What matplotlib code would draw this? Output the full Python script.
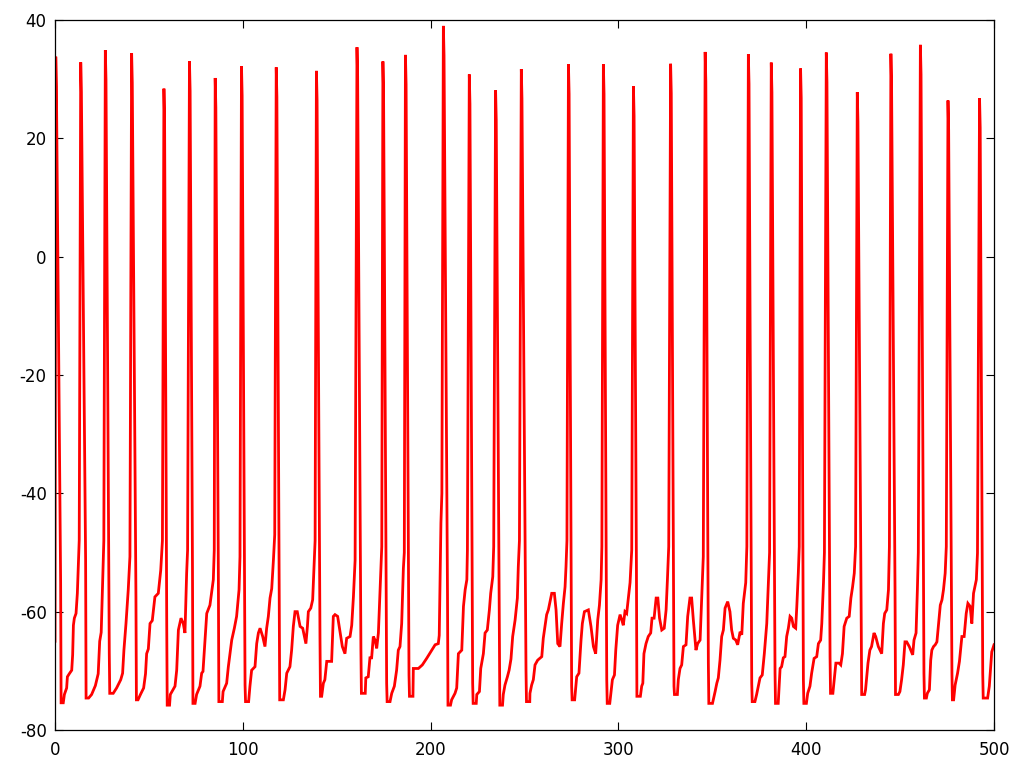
import numpy as np
import matplotlib
matplotlib.use("Agg")
import matplotlib.pyplot as plt

# ---- spike data (time of peak, peak value, end-of-fall time, value there, trough) ----
spike_t = [0.4, 13.7, 26.8, 40.8, 58.0, 71.6, 85.3, 99.3, 117.8, 139.2, 160.8, 174.6,
           186.6, 206.8, 220.6, 234.6, 248.3, 273.4, 292.0, 308.0, 327.8, 346.2, 369.2,
           381.4, 397.0, 410.7, 427.2, 445.1, 460.8, 475.5, 492.3]
spike_peak = [33.8, 32.85, 34.9, 34.4, 28.4, 33.0, 30.2, 32.2, 32.0, 31.4, 35.4, 33.0,
              34.1, 39.0, 30.8, 28.1, 31.7, 32.5, 32.5, 28.8, 32.6, 34.6, 34.2,
              32.8, 31.8, 34.5, 27.8, 34.3, 35.8, 26.4, 26.8]
fall_t = [3.0, 16.3, 28.9, 43.1, 59.5, 73.2, 87.0, 101.2, 119.4, 141.1, 162.9, 176.6,
          188.5, 209.0, 222.4, 236.6, 250.8, 275.1, 293.8, 309.6, 329.6, 347.9, 371.0,
          383.4, 398.5, 412.7, 429.3, 447.3, 462.7, 477.6, 494.0]
fall_v = [-55.2, -51.2, -67.0, -57.5, -62.3, -52.4, -54.6, -72.4, -56.7, -64.5, -66.5, -72.1,
          -70.7, -57.2, -72.1, -63.1, -69.9, -72.6, -71.5, -52.7, -72.6, -68.7, -72.1,
          -70.4, -71.5, -67.6, -62.5, -56.3, -70.4, -70.4, -70.4]
trough_v = [-75.4, -74.6, -73.8, -74.9, -75.8, -75.5, -75.2, -75.2, -74.9, -74.3, -73.8, -75.2,
            -74.3, -75.8, -75.5, -75.8, -75.2, -74.9, -75.5, -74.3, -74.0, -75.5, -75.2,
            -75.5, -75.5, -73.8, -74.0, -74.0, -74.6, -74.9, -74.6]

# ---- subthreshold trace between spikes (time, voltage) ----
sub_t = [0.0,
         4.4, 5.0, 6.2, 6.6, 7.6, 8.9, 9.4, 9.8, 10.3, 11.2, 11.9, 12.4, 12.9,
         17.9, 19.5, 21.5, 23.0, 23.8, 24.6, 25.4, 26.0,
         31.0, 32.8, 35.0, 36.0, 36.7, 37.8, 39.0, 39.9,
         44.2, 45.5, 47.2, 48.2, 48.8, 49.7, 50.6, 51.8, 53.2, 55.0, 56.3, 57.2,
         61.0, 61.4, 63.9, 64.8, 65.7, 67.1, 68.3, 69.2, 70.1, 70.6,
         74.6, 75.4, 77.2, 78.1, 78.8, 79.9, 80.8, 82.5, 84.3, 84.8,
         89.1, 89.5, 91.4, 92.3, 94.1, 95.5, 96.7, 98.0, 98.5,
         103.1, 103.8, 104.7, 106.5, 107.4, 108.3, 109.2, 110.6, 111.8, 112.7, 113.6, 114.5, 115.4, 116.3, 117.0,
         121.6, 122.5, 123.4, 125.1, 126.0, 126.9, 127.8, 129.0, 130.5, 131.9, 133.6, 134.4, 134.9, 136.2, 137.2, 137.9, 138.5,
         142.0, 142.9, 143.7, 144.7, 147.3, 148.2, 149.1, 150.5, 151.8, 153.0, 154.4, 155.3, 157.1, 158.0, 158.9, 159.8,
         165.2, 165.5, 166.8, 167.7, 168.6, 169.5, 170.4, 171.3, 172.2, 173.1, 174.0,
         178.4, 179.3, 180.7, 181.9, 182.8, 183.7, 184.6, 185.5, 186.0,
         190.6, 190.8, 193.5, 195.6, 197.9, 200.6, 202.4, 204.1, 204.6, 205.5, 206.0,
         210.6, 211.2, 213.0, 213.9, 214.8, 216.6, 217.5, 218.4, 219.3, 219.6,
         224.3, 224.6, 226.0, 226.7, 228.1, 229.0, 230.2, 231.3, 232.0, 233.1, 233.6,
         238.3, 238.7, 239.6, 240.9, 241.8, 242.8, 243.7, 245.0, 246.2, 246.7, 247.3,
         252.8, 252.9, 253.8, 254.7, 255.6, 257.0, 259.2, 260.0, 260.9, 261.8, 262.7, 263.6, 264.5, 265.9, 266.8, 267.7, 268.9, 269.8, 270.7, 271.6, 272.1, 272.6,
         276.7, 277.8, 279.0, 280.1, 280.8, 281.9, 284.0, 285.4, 286.7, 287.9, 289.0, 289.9, 290.8, 291.2,
         295.4, 296.1, 296.8, 297.9, 298.6, 299.6, 300.9, 301.8, 302.6, 303.5, 304.4, 305.3, 306.2, 307.1,
         311.7, 312.4, 313.0, 313.6, 314.7, 315.9, 317.2, 317.9, 319.0, 320.1, 321.0, 321.9, 323.1, 324.4, 325.4, 326.1, 326.8,
         331.4, 331.9, 332.8, 333.7, 334.6, 336.0, 336.9, 338.1, 339.0, 339.9, 341.3, 342.2, 343.5, 344.3, 345.2,
         350.1, 351.5, 352.4, 353.2, 354.1, 355.0, 355.9, 356.8, 358.2, 359.4, 360.3, 361.2, 362.5, 363.5, 364.8, 365.7, 366.5, 367.8, 368.4,
         372.7, 373.6, 374.5, 375.4, 376.6, 377.7, 379.0, 379.8, 380.5,
         385.1, 386.1, 386.9, 387.8, 388.7, 389.6, 390.5, 391.4, 392.3, 393.2, 394.4, 395.0, 395.8, 396.3,
         400.1, 400.8, 402.0, 402.9, 404.2, 405.6, 406.5, 407.7, 408.3, 409.2, 409.7,
         414.2, 414.9, 415.8, 417.5, 418.4, 419.3, 420.2, 421.6, 422.9, 423.8, 424.7, 425.6, 426.3,
         431.1, 431.6, 432.9, 433.9, 434.8, 436.1, 437.0, 438.4, 440.2, 441.1, 441.8, 442.9, 443.8, 444.3,
         449.1, 449.9, 450.8, 451.7, 452.6, 453.5, 454.9, 456.7, 457.4, 458.5, 459.2, 459.7,
         464.0, 464.5, 465.6, 466.3, 466.9, 467.8, 468.7, 469.6, 470.5, 471.4, 472.3, 473.1, 474.0, 474.6,
         478.5, 479.3, 480.6, 481.6, 482.9, 484.1, 485.2, 486.1, 487.3, 488.2, 489.1, 490.6, 491.2,
         496.6, 497.5, 498.8, 500.0]
sub_v = [-65.0,
         -75.4, -74.0, -72.9, -71.0, -70.5, -69.9, -67.3, -62.3, -61.1, -60.3, -56.9, -52.4, -47.9,
         -74.6, -74.0, -72.5, -70.5, -65.0, -63.5, -55.0, -48.0,
         -73.8, -72.9, -71.5, -70.4, -66.5, -62.0, -56.3, -50.7,
         -74.9, -74.0, -72.9, -70.5, -67.1, -66.3, -62.0, -61.5, -57.5, -56.9, -53.0, -48.0,
         -75.8, -74.0, -72.6, -69.9, -63.1, -61.1, -62.0, -63.6, -53.5, -49.6,
         -75.5, -74.0, -72.6, -70.4, -70.1, -64.8, -60.3, -58.9, -54.6, -49.6,
         -75.2, -73.5, -72.1, -69.3, -64.8, -62.8, -60.8, -56.3, -50.7,
         -75.2, -72.6, -69.9, -69.3, -65.4, -63.6, -62.8, -64.2, -65.9, -62.8, -60.8, -57.7, -56.1, -51.3, -47.0,
         -74.9, -73.2, -70.4, -69.3, -66.5, -62.5, -60.0, -60.0, -62.5, -62.8, -65.4, -62.5, -60.0, -59.4, -58.0, -52.4, -48.0,
         -74.3, -72.1, -71.5, -68.4, -68.4, -60.8, -60.5, -60.8, -63.4, -65.9, -67.1, -64.5, -64.2, -62.3, -57.5, -51.3,
         -73.8, -71.2, -71.0, -67.8, -67.8, -64.2, -64.8, -66.2, -63.6, -56.3, -49.0,
         -75.2, -73.8, -72.6, -69.9, -66.5, -65.9, -62.0, -52.7, -50.0,
         -74.3, -69.6, -69.6, -69.0, -67.9, -66.5, -65.6, -65.4, -64.0, -45.0, -40.0,
         -75.8, -74.9, -73.8, -72.9, -67.1, -66.5, -59.1, -56.3, -54.6, -49.6,
         -75.5, -74.0, -73.5, -69.6, -67.1, -63.6, -63.1, -59.7, -56.9, -54.1, -49.0,
         -75.8, -74.0, -72.4, -71.0, -69.9, -68.0, -64.2, -61.4, -57.7, -52.4, -48.0,
         -75.2, -73.8, -72.4, -71.5, -69.0, -68.2, -67.6, -64.5, -62.5, -60.5, -59.7, -58.3, -56.9, -56.9, -59.7, -65.4, -65.9, -62.0, -58.6, -55.8, -52.4, -48.0,
         -74.9, -71.0, -70.4, -64.8, -62.0, -60.0, -59.7, -62.5, -65.9, -67.1, -61.4, -58.9, -54.6, -49.0,
         -75.5, -73.5, -71.5, -70.7, -66.5, -62.3, -60.5, -61.4, -62.3, -60.0, -60.3, -57.7, -55.1, -49.6,
         -74.3, -72.6, -72.1, -67.1, -65.4, -64.2, -63.6, -61.1, -61.1, -57.7, -57.7, -61.1, -63.1, -62.8, -59.7, -54.6, -49.0,
         -74.0, -71.5, -69.6, -69.0, -65.9, -65.6, -60.8, -57.7, -57.7, -61.4, -66.5, -65.4, -64.8, -58.0, -50.7,
         -75.5, -73.5, -72.1, -71.2, -68.2, -64.2, -63.1, -59.4, -58.3, -60.0, -63.1, -64.5, -64.8, -65.6, -63.4, -63.9, -58.6, -55.1, -49.0,
         -75.2, -74.0, -72.6, -71.2, -70.7, -67.1, -62.0, -55.8, -50.0,
         -75.5, -69.6, -69.3, -67.8, -67.6, -64.2, -62.8, -60.8, -61.1, -62.5, -62.8, -59.1, -53.5, -49.0,
         -75.5, -73.8, -72.6, -70.4, -67.9, -67.6, -65.4, -64.8, -62.0, -55.1, -50.0,
         -73.8, -71.5, -68.7, -68.7, -69.0, -67.1, -62.5, -61.1, -60.8, -57.7, -55.8, -53.5, -49.0,
         -74.0, -73.2, -68.7, -66.5, -65.9, -63.6, -64.2, -65.9, -67.1, -62.0, -60.3, -59.7, -56.3, -49.0,
         -74.0, -73.5, -71.5, -69.0, -65.1, -65.1, -65.9, -67.3, -64.8, -63.6, -56.3, -50.0,
         -74.6, -73.8, -73.2, -68.2, -66.5, -65.9, -65.6, -65.1, -62.0, -58.9, -58.0, -56.3, -53.5, -49.0,
         -74.9, -72.4, -70.4, -68.4, -64.2, -64.2, -60.3, -58.6, -59.1, -62.0, -56.9, -54.6, -50.1,
         -74.6, -72.6, -66.8, -65.6]

# ---- assemble the trace ----
pts_t = list(sub_t)
pts_v = list(sub_v)
for tp, pk, tf, vf, vt in zip(spike_t, spike_peak, fall_t, fall_v, trough_v):
    pts_t += [tp, tp + 0.35, tf, tf + 0.25]
    pts_v += [pk, pk - 5.0, vf, vt]
order = np.argsort(np.array(pts_t), kind="stable")
t = np.array(pts_t)[order]
v = np.array(pts_v)[order]

plt.rcParams['axes.unicode_minus'] = False
fig = plt.figure(figsize=(10.24, 7.68), dpi=100)
ax = fig.add_axes([55 / 1024, 1 - 730 / 768, (994 - 55) / 1024, (730 - 20) / 768])
ax.plot(t, v, color='#ff0000', linewidth=2.0, solid_joinstyle='miter')
ax.set_xlim(0, 500)
ax.set_ylim(-80, 40)
ax.set_xticks([0, 100, 200, 300, 400, 500])
ax.set_yticks([-80, -60, -40, -20, 0, 20, 40])
ax.tick_params(direction='in', length=6, width=0.8, top=True, right=True,
               labelsize=12, pad=6)
ax.tick_params(axis='x', pad=8)
for s in ax.spines.values():
    s.set_linewidth(0.9)
fig.savefig('out.png', dpi=100)
